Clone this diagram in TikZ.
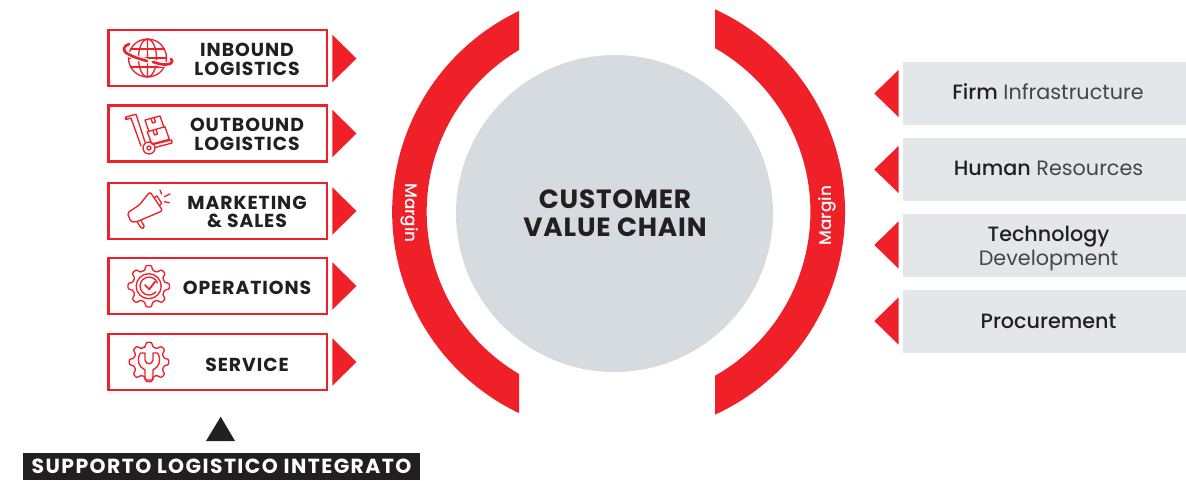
\documentclass[tikz,border=0pt]{standalone}
\usepackage{fontspec}
\setmainfont{Poppins}
\newfontfamily\medfont{Poppins Medium}
\usetikzlibrary{shapes,arrows,positioning,calc}
\definecolor{valuered}{RGB}{239,32,39}
\definecolor{darktext}{RGB}{35,31,32}
\definecolor{softtext}{RGB}{70,68,70}
\definecolor{hubgray}{RGB}{214,219,223}
\definecolor{panelgray}{RGB}{228,231,234}
\tikzset{
    % Left activity box
    activitybox/.style={
        rectangle, draw=valuered, line width=1.3pt, fill=white,
        minimum width=4.37cm, minimum height=1.12cm
    },
    % Text inside the left boxes
    activitytext/.style={
        align=center, text=darktext,
        font=\fontsize{10.7pt}{10.7pt}\selectfont\bfseries\addfontfeatures{LetterSpace=5}
    },
    % Right support panel
    supportbox/.style={
        rectangle, fill=panelgray, minimum width=5.66cm, minimum height=1.25cm
    },
    % Text inside the right panels
    supporttext/.style={
        align=center, text=softtext,
        font=\fontsize{11.8pt}{13.6pt}\selectfont
    },
    % Line icon style
    iconline/.style={
        draw=valuered, line width=0.75pt, line join=round, line cap=round
    },
    % Rotated arc label
    marginlabel/.style={
        text=white, font=\fontsize{9.6pt}{10pt}\selectfont\medfont
    }
}
\newcommand{\strongpart}[1]{{\medfont\color{darktext}#1}}
\begin{document}
\begin{tikzpicture}[x=0.02cm,y=-0.02cm]

\useasboundingbox (0,0) rectangle (1186,480);

% Central circle
\node[circle, fill=hubgray, minimum size=6.34cm, inner sep=0pt] (hub) at (614.5,213.5) {};
\node[align=center, text=darktext, font=\fontsize{15pt}{16pt}\selectfont\bfseries\addfontfeatures{LetterSpace=3}] (hubtext) at (615,213.5) {CUSTOMER\\VALUE CHAIN};

% Margin arcs
\fill[valuered] (519,11) arc[start angle=244.48, end angle=115.52, radius=222.8]
    -- (519,374) arc[start angle=120.65, end angle=239.35, radius=188.3] -- cycle;
\fill[valuered] (715,9.3) arc[start angle=-65.35, end angle=65.35, radius=223]
    -- (715,375.8) arc[start angle=60.42, end angle=-60.42, radius=188.4] -- cycle;
\node[marginlabel, rotate=-90] (marginleft) at (410,213) {Margin};
\node[marginlabel, rotate=90] (marginright) at (827.5,215.7) {Margin};

% Left activities
\node[activitybox] (inbound) at (217.8,58.3) {};
\node[activitybox] (outbound) at (217.8,133.5) {};
\node[activitybox] (marketing) at (217.8,211) {};
\node[activitybox] (operations) at (217.8,286) {};
\node[activitybox] (service) at (217.8,362.3) {};
\node[activitytext] (inboundtext) at (247,59.5) {INBOUND\\LOGISTICS};
\node[activitytext] (outboundtext) at (247,134) {OUTBOUND\\LOGISTICS};
\node[activitytext] (marketingtext) at (247,212) {MARKETING\\\& SALES};
\node[activitytext] (operationstext) at (247,287.5) {OPERATIONS};
\node[activitytext] (servicetext) at (247,364.5) {SERVICE};

% Triangles next to the boxes
\foreach \y in {58.5,133.5,211,286,362} {
    \fill[valuered] (332.3,\y-23.7) -- (356.5,\y) -- (332.3,\y+23.7) -- cycle;
}
\foreach \y in {93.5,169.5,245,321} {
    \fill[valuered] (898.7,\y-23.7) -- (874.3,\y) -- (898.7,\y+23.7) -- cycle;
}

% Right support panels
\node[supportbox] (firm) at (1044.5,93.3) {};
\node[supportbox] (human) at (1044.5,169.3) {};
\node[supportbox] (technology) at (1044.5,245.3) {};
\node[supportbox] (procurement) at (1044.5,321.3) {};
\node[supporttext] (firmtext) at (1048,92) {\strongpart{Firm} Infrastructure};
\node[supporttext] (humantext) at (1048.5,168) {\strongpart{Human} Resources};
\node[supporttext] (technologytext) at (1048.5,248.5) {\strongpart{Technology}\\Development};
\node[supporttext] (procurementtext) at (1048.5,321) {\strongpart{Procurement}};

% Bottom label
\fill[darktext] (206,441) -- (220.7,416.7) -- (235,441) -- cycle;
\node[rectangle, fill=darktext, text=white, minimum width=7.94cm, minimum height=0.54cm, inner sep=0pt,
    font=\fontsize{11.6pt}{12pt}\selectfont\bfseries\addfontfeatures{LetterSpace=7}] (support) at (221.5,466.5) {SUPPORTO LOGISTICO INTEGRATO};

% Globe icon
\draw[iconline] (147.5,58) circle (19);
\draw[iconline] (147.5,58) ellipse (9 and 19) (147.5,39) -- (147.5,77);
\draw[iconline] (130.5,49) -- (164.5,49) (128.5,58) -- (166.5,58) (130.5,67) -- (164.5,67);
\draw[white, line width=3pt, line cap=round] (129,44) .. controls (123,46) and (122,51) .. (128,54)
    .. controls (133,57) and (140,59) .. (147,61) (153,62) -- (160,64) .. controls (170,66) and (175,62) .. (171,59);
\draw[iconline, line width=1.5pt] (129,44) .. controls (123,46) and (122,51) .. (128,54)
    .. controls (133,57) and (140,59) .. (147,61) (153,62) -- (160,64) .. controls (170,66) and (175,62) .. (171,59);

% Hand truck icon
\draw[iconline] (126,117) -- (136,114.3) -- (145,142) (126,119.5) -- (131,118) -- (141,146);
\draw[iconline] (126,117) -- (126,119.5);
\draw[iconline] (149,148) circle (6) (149,148) circle (2);
\draw[iconline] (152.5,144.5) -- (171.7,140) -- (172,143) -- (155,147.5);
\draw[iconline] (147.3,131.7) -- (165,126.7) -- (169.3,139.3) -- (151.7,144) -- cycle;
\draw[iconline] (145,120) -- (160,116) -- (164,127.3) (145,120) -- (149,131.7);
\draw[iconline] (151,118.5) -- (152.5,123) -- (155.5,122) -- (154,117.5);
\draw[iconline] (153,130.5) -- (154.5,135) -- (157.5,134) -- (156,129.5);

% Megaphone icon
\draw[iconline, rounded corners=1pt] (127.3,213) -- (139.3,205) -- (150,191.7) -- (162.7,210.7) -- (137,221.7) -- (131,222) -- cycle;
\draw[iconline] (154,198) -- (157,196) -- (161.7,203.3) -- (159.5,205.5);
\draw[iconline, rounded corners=1pt] (137,221.7) -- (141.7,229) -- (145,227.5) -- (140.7,220);
\draw[iconline] (160,190) -- (161.7,194) (164.3,196.7) -- (170,194) (164.3,201.7) -- (169.3,202.7);

% Gear icons
\foreach \gx/\gy/\gr in {148.7/286.2/21,149/362/20} {
    \begin{scope}[shift={(\gx,\gy)}]
        \draw[iconline, rounded corners=1.2pt] ({0.78*\gr*sin(-22.5)},{-0.78*\gr*cos(-22.5)})
        \foreach \a in {0,45,...,315} {
            -- ({0.78*\gr*sin(\a-12)},{-0.78*\gr*cos(\a-12)}) -- ({\gr*sin(\a-9)},{-\gr*cos(\a-9)})
            -- ({\gr*sin(\a+9)},{-\gr*cos(\a+9)}) -- ({0.78*\gr*sin(\a+12)},{-0.78*\gr*cos(\a+12)})
        } -- cycle;
    \end{scope}
}
\draw[iconline] (148.7,286.2) circle (12.5);
\draw[iconline] (157.5,283) arc[start angle=-20, end angle=-320, radius=9];
\draw[iconline, line width=1pt] (145,285) -- (149.3,289.3) -- (155,281.7);

% Wrench inside the second gear
\draw[iconline] (140.5,353) .. controls (136,360) and (139,367) .. (145,370) -- (145,380) -- (153,380) -- (153,370)
    .. controls (159,367) and (162,360) .. (157.5,353) -- (153,353) -- (153,360) .. controls (152,365) and (146,365) .. (145,360) -- (145,353) -- cycle;

\end{tikzpicture}
\end{document}
